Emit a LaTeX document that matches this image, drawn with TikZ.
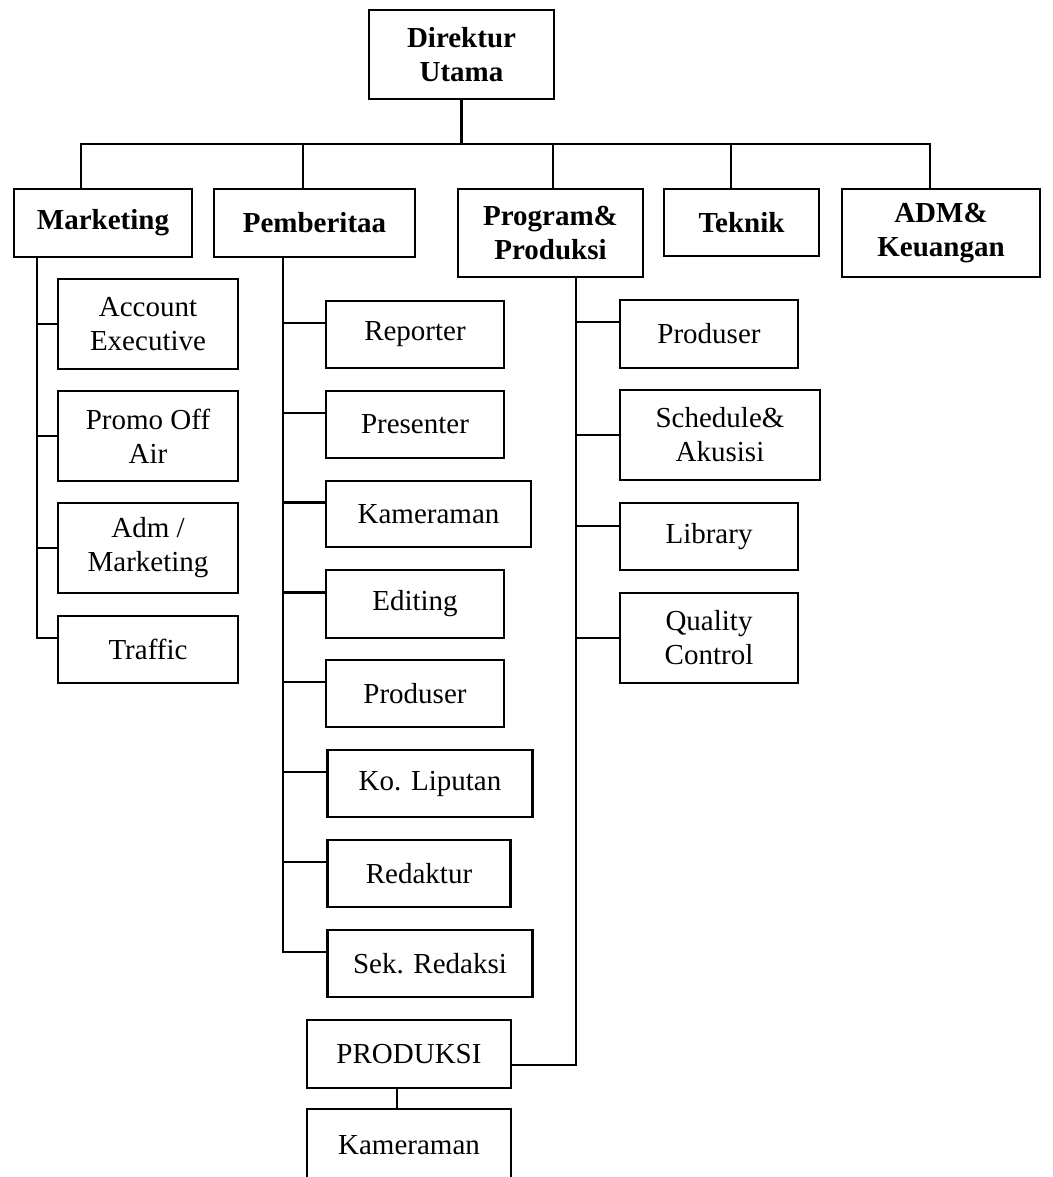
\documentclass[tikz,border=0pt]{standalone}
\usepackage{fontspec}
\setmainfont{Liberation Serif}
\begin{document}
\begin{tikzpicture}[x=1pt,y=-1pt,
  box/.style={draw, line width=2.3pt, inner sep=0pt, align=center,
    font=\fontsize{29}{34}\selectfont},
  hbox/.style={box, font=\fontsize{29}{34}\selectfont\bfseries},
  line/.style={line width=2.3pt}]
\useasboundingbox (0,0) rectangle (1052,1177);
\clip (0,0) rectangle (1052,1177);
% top level
\node[hbox, minimum width=185pt, minimum height=89pt] (dir) at (461.5,54.5) {Direktur\\Utama};
\node[hbox, minimum width=178pt, minimum height=68pt] (mkt) at (103,223) {Marketing};
\node[hbox, minimum width=201pt, minimum height=68pt] (pem) at (314.5,223) {Pemberitaa};
\node[hbox, minimum width=185pt, minimum height=88pt] (prog) at (550.5,233) {Program\&\\Produksi};
\node[hbox, minimum width=155pt, minimum height=67pt] (tek) at (741.5,222.5) {Teknik};
\node[hbox, minimum width=198pt, minimum height=88pt] (adm) at (941,233) {ADM\&\\Keuangan};
% marketing children
\node[box, minimum width=180pt, minimum height=90pt] (ae) at (148,324) {Account\\Executive};
\node[box, minimum width=180pt, minimum height=90pt] (promo) at (148,436) {Promo Off\\Air};
\node[box, minimum width=180pt, minimum height=90pt] (admm) at (148,548) {Adm /\\Marketing};
\node[box, minimum width=180pt, minimum height=67pt] (traffic) at (148,649.5) {Traffic};
% pemberitaan children
\node[box, minimum width=178pt, minimum height=67pt] (rep) at (415,334.5) {Reporter};
\node[box, minimum width=178pt, minimum height=67pt] (pres) at (415,424.5) {Presenter};
\node[box, minimum width=205pt, minimum height=66pt] (kam) at (428.5,514) {Kameraman};
\node[box, minimum width=178pt, minimum height=68pt] (edit) at (415,604) {Editing};
\node[box, minimum width=178pt, minimum height=67pt] (prod) at (415,693.5) {Produser};
\node[box, minimum width=205pt, minimum height=67pt] (kol) at (430,783.5) {Ko. Liputan};
\node[box, minimum width=183pt, minimum height=67pt] (red) at (419,873.5) {Redaktur};
\node[box, minimum width=205pt, minimum height=67pt] (sek) at (430,963.5) {Sek. Redaksi};
% program children
\node[box, minimum width=178pt, minimum height=68pt] (pp) at (709,334) {Produser};
\node[box, minimum width=200pt, minimum height=90pt] (sch) at (720,435) {Schedule\&\\Akusisi};
\node[box, minimum width=178pt, minimum height=67pt] (lib) at (709,536.5) {Library};
\node[box, minimum width=178pt, minimum height=90pt] (qc) at (709,638) {Quality\\Control};
% produksi
\node[box, minimum width=204pt, minimum height=68pt] (produksi) at (409,1054) {PRODUKSI};
\node[box, minimum width=204pt, minimum height=72pt] (kam2) at (409,1145) {Kameraman};
% bus
\coordinate (busL) at (81,144);
\coordinate (busR) at (930,144);
\draw[line] (dir.south) -- (dir.south |- busL);
\draw[line] ([xshift=-22pt]mkt.north) -- (busL) -- (busR) -- ([xshift=-11pt]adm.north);
\draw[line] ([xshift=-11.5pt]pem.north) -- ([xshift=-11.5pt]pem.north |- busL);
\draw[line] ([xshift=2.5pt]prog.north) -- ([xshift=2.5pt]prog.north |- busL);
\draw[line] ([xshift=-10.5pt]tek.north) -- ([xshift=-10.5pt]tek.north |- busL);
% marketing tree
\coordinate (mv) at ([xshift=-66pt]mkt.south);
\draw[line] (mv) |- ([yshift=11.5pt]traffic.west);
\draw[line] (ae.west) -- (ae.west -| mv);
\draw[line] (promo.west) -- (promo.west -| mv);
\draw[line] (admm.west) -- (admm.west -| mv);
% pemberitaan tree
\coordinate (pv) at ([xshift=-31.5pt]pem.south);
\draw[line] (pv) |- ([yshift=11.5pt]sek.west);
\foreach \n in {rep,pres,kam,edit,prod,kol,red}
  \draw[line] ([yshift=11.5pt]\n.west) -- ([yshift=11.5pt]\n.west -| pv);
% program tree
\coordinate (qv) at ([xshift=25.5pt]prog.south);
\draw[line] (qv) |- ([yshift=-11pt]produksi.east);
\draw[line] ([yshift=12pt]pp.west) -- ([yshift=12pt]pp.west -| qv);
\draw[line] (sch.west) -- (sch.west -| qv);
\draw[line] ([yshift=10.5pt]lib.west) -- ([yshift=10.5pt]lib.west -| qv);
\draw[line] (qc.west) -- (qc.west -| qv);
% produksi to kameraman
\draw[line] ([xshift=-12pt]produksi.south) -- ([xshift=-12pt]kam2.north);
\end{tikzpicture}
\end{document}
